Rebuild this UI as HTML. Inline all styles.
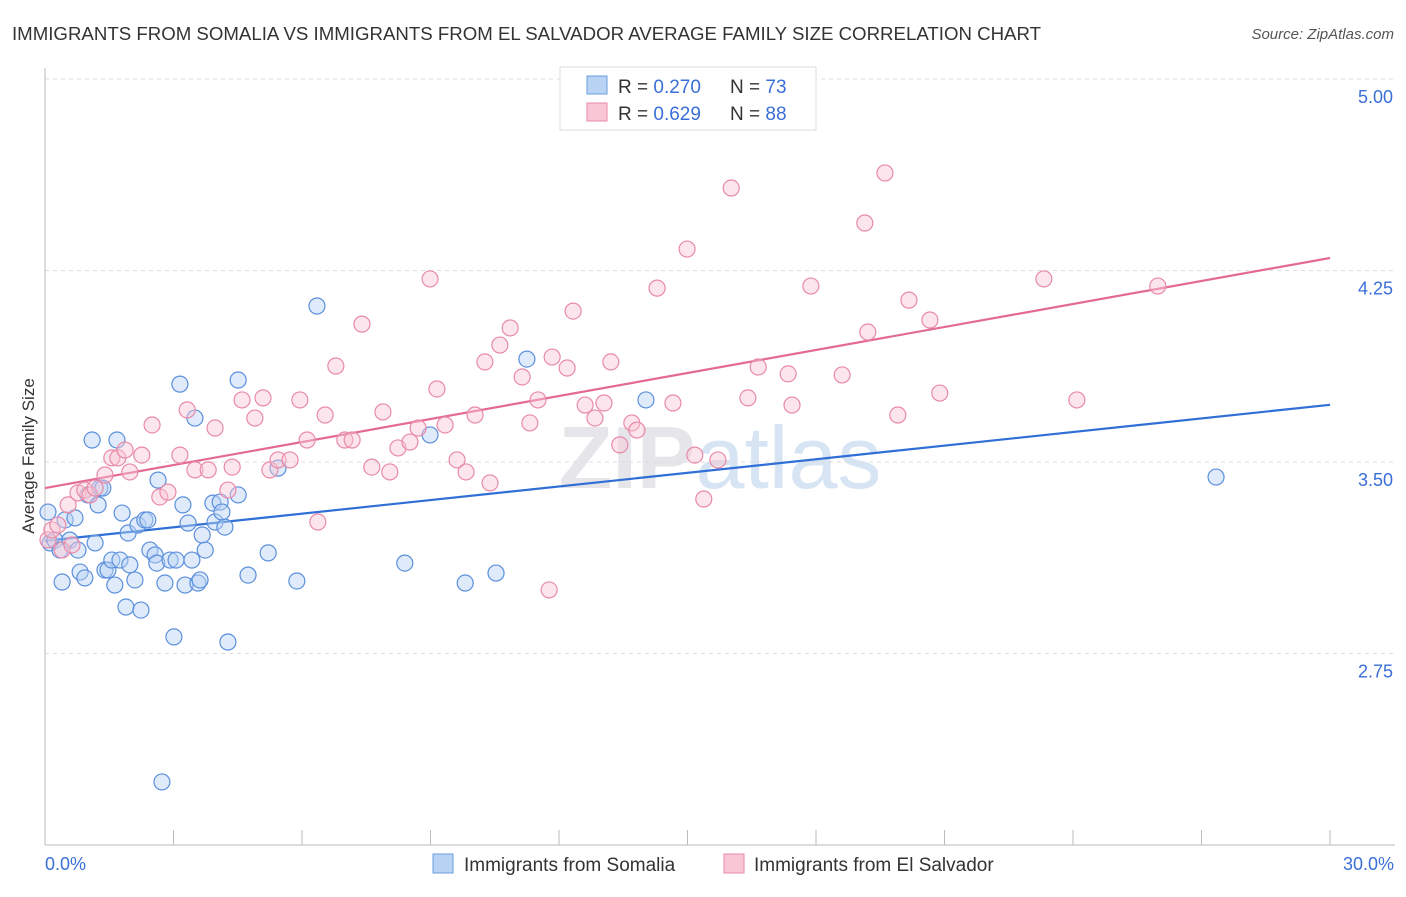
<!DOCTYPE html>
<html><head><meta charset="utf-8">
<style>
body{margin:0;background:#fff;font-family:"Liberation Sans",sans-serif;}
svg text{font-family:"Liberation Sans",sans-serif;}
</style></head>
<body>
<svg id="c" width="1406" height="892" viewBox="0 0 1406 892">
<text x="12" y="40" font-size="18" fill="#333" textLength="1029" lengthAdjust="spacingAndGlyphs">IMMIGRANTS FROM SOMALIA VS IMMIGRANTS FROM EL SALVADOR AVERAGE FAMILY SIZE CORRELATION CHART</text>
<text x="1394" y="39" font-size="15" fill="#555" font-style="italic" text-anchor="end">Source: ZipAtlas.com</text>
<text x="720" y="488" font-size="88" fill="#e6e6ea" text-anchor="middle" font-weight="bold">ZIP<tspan fill="#d6e4f4" font-weight="normal">atlas</tspan></text>
<text transform="translate(34,456) rotate(-90)" font-size="17" fill="#333" text-anchor="middle">Average Family Size</text>
<g id="grid"></g>
<g id="trend"></g>
<g id="pts"></g>
<g>
<rect x="560" y="67" width="256" height="63" fill="#fff" stroke="#ddd"/>
<rect x="587" y="76" width="20" height="18" fill="#b9d3f5" stroke="#6a9ee0"/>
<text x="618" y="93" font-size="19" fill="#333">R = <tspan fill="#3a6fd8">0.270</tspan></text>
<text x="730" y="93" font-size="19" fill="#333">N = <tspan fill="#3a6fd8">73</tspan></text>
<rect x="587" y="103" width="20" height="18" fill="#f8c6d5" stroke="#e88aa8"/>
<text x="618" y="120" font-size="19" fill="#333">R = <tspan fill="#3a6fd8">0.629</tspan></text>
<text x="730" y="120" font-size="19" fill="#333">N = <tspan fill="#3a6fd8">88</tspan></text>
</g>
<g>
<rect x="433" y="854" width="20" height="19" fill="#b9d3f5" stroke="#6a9ee0"/>
<text x="464" y="871" font-size="19" fill="#333">Immigrants from Somalia</text>
<rect x="724" y="854" width="20" height="19" fill="#f8c6d5" stroke="#e88aa8"/>
<text x="754" y="871" font-size="19" fill="#333">Immigrants from El Salvador</text>
</g>
<text x="45" y="870" font-size="18" fill="#3a6fd8">0.0%</text>
<text x="1394" y="870" font-size="18" fill="#3a6fd8" text-anchor="end">30.0%</text>
</svg>
<script>
const yTicks=[5.00,4.25,3.50,2.75];
const yTickLabels=["5.00","4.25","3.50","2.75"];
const xTicks=[0,3,6,9,12,15,18,21,24,27,30];
const somaliaX=[0.07,0.12,0.23,0.35,0.40,0.47,0.58,0.70,0.77,0.82,0.93,1.00,1.10,1.17,1.24,1.28,1.35,1.40,1.47,1.56,1.63,1.68,1.75,1.80,1.89,1.94,1.98,2.10,2.17,2.24,2.33,2.40,2.45,2.57,2.61,2.64,2.80,2.92,3.01,3.06,3.15,3.22,3.27,3.34,3.43,3.50,3.57,3.62,3.67,3.74,3.92,3.97,4.09,4.13,4.20,4.27,4.51,4.51,4.74,5.21,5.44,5.88,6.35,8.40,8.99,9.81,10.53,11.25,14.03,27.34,2.73];
const somaliaY=[3.304,3.183,3.194,3.155,3.030,3.273,3.194,3.281,3.155,3.069,3.046,3.371,3.586,3.183,3.332,3.398,3.398,3.077,3.077,3.116,3.018,3.586,3.116,3.300,2.932,3.222,3.097,3.038,3.253,2.920,3.273,3.273,3.155,3.136,3.104,3.429,3.026,3.116,2.815,3.116,3.805,3.332,3.018,3.261,3.116,3.672,3.026,3.038,3.214,3.155,3.339,3.265,3.343,3.304,3.245,2.795,3.821,3.371,3.057,3.144,3.476,3.034,4.111,3.104,3.606,3.026,3.065,3.903,3.743,3.441,2.247];
const salvX=[0.07,0.16,0.30,0.40,0.54,0.63,0.77,0.93,1.05,1.17,1.40,1.56,1.70,1.87,1.98,2.26,2.50,2.68,2.87,3.15,3.32,3.50,3.81,3.97,4.27,4.37,4.60,4.90,5.09,5.25,5.44,5.72,5.95,6.12,6.37,6.54,6.79,7.00,7.17,7.40,7.63,7.89,8.05,8.24,8.52,8.71,8.99,9.15,9.34,9.62,9.83,10.04,10.39,10.27,10.62,10.86,11.14,11.32,11.51,11.77,11.84,12.19,12.33,12.61,12.84,13.05,13.21,13.42,13.70,13.82,14.29,14.66,14.99,15.17,15.38,15.71,16.02,16.41,16.65,17.35,17.44,17.88,18.61,19.14,19.21,19.61,19.91,20.17,20.66,20.89,23.32,24.09,25.98];
const salvY=[3.195,3.234,3.253,3.155,3.332,3.175,3.379,3.390,3.371,3.398,3.449,3.516,3.516,3.547,3.461,3.527,3.645,3.363,3.382,3.527,3.704,3.469,3.469,3.633,3.390,3.480,3.743,3.672,3.751,3.469,3.508,3.508,3.743,3.586,3.265,3.684,3.876,3.586,3.586,4.040,3.480,3.696,3.461,3.555,3.578,3.633,4.217,3.786,3.645,3.508,3.461,3.684,3.418,3.892,3.958,4.025,3.833,3.653,3.743,2.999,3.911,3.868,4.091,3.723,3.672,3.731,3.892,3.567,3.653,3.625,4.181,3.731,4.334,3.527,3.355,3.508,4.573,3.751,3.872,3.845,3.723,4.189,3.841,4.436,4.009,4.632,3.684,4.134,4.056,3.770,4.217,3.743,4.189];
const trendX=[0,30];
const somaliaTrend=[3.191,3.724];
const salvTrend=[3.398,4.299];

const NS="http://www.w3.org/2000/svg";
const X=v=>45+v/30*1285;
const Y=v=>79+(5-v)*255.33;
function mk(t,a,p){const e=document.createElementNS(NS,t);for(const k in a)e.setAttribute(k,a[k]);p.appendChild(e);return e;}
const grid=document.getElementById('grid');
yTicks.forEach((t,i)=>{
 const l=mk('line',{x1:45,x2:1395,y1:Y(t),y2:Y(t),stroke:'#ddd','stroke-dasharray':'4,4'},grid);
 
 
 const tx=mk('text',{x:1393,y:Y(t)+24,'font-size':18,fill:'#3a6fd8','text-anchor':'end'},grid);
 tx.textContent=yTickLabels[i];
 
 
});
const ax=mk('line',{x1:45,x2:1395,y1:845,y2:845,stroke:'#bbb'},grid);


const ay=mk('line',{x1:45,x2:45,y1:68,y2:845,stroke:'#bbb'},grid);


xTicks.forEach(t=>{
 const l=mk('line',{x1:X(t),x2:X(t),y1:830,y2:845,stroke:'#bbb'},grid);
 
 
});
const pts=document.getElementById('pts');
function series(xs,ys,fill,stroke,name){
 xs.forEach((x,i)=>{
  const c=mk('circle',{cx:X(x),cy:Y(ys[i]),r:8,fill:fill,'fill-opacity':0.45,stroke:stroke,'stroke-width':1.2},pts);
  
  
 });
}
series(somaliaX,somaliaY,'#b9d3f5','#5b8fdc','point-somalia');
series(salvX,salvY,'#f8c6d5','#e88aa8','point-elsalvador');
const tr=document.getElementById('trend');
const t1=mk('line',{x1:X(trendX[0]),x2:X(trendX[1]),y1:Y(somaliaTrend[0]),y2:Y(somaliaTrend[1]),stroke:'#2f6fd6','stroke-width':2.2},tr);


const t2=mk('line',{x1:X(trendX[0]),x2:X(trendX[1]),y1:Y(salvTrend[0]),y2:Y(salvTrend[1]),stroke:'#e36a95','stroke-width':2.2},tr);


</script>
</body></html>
